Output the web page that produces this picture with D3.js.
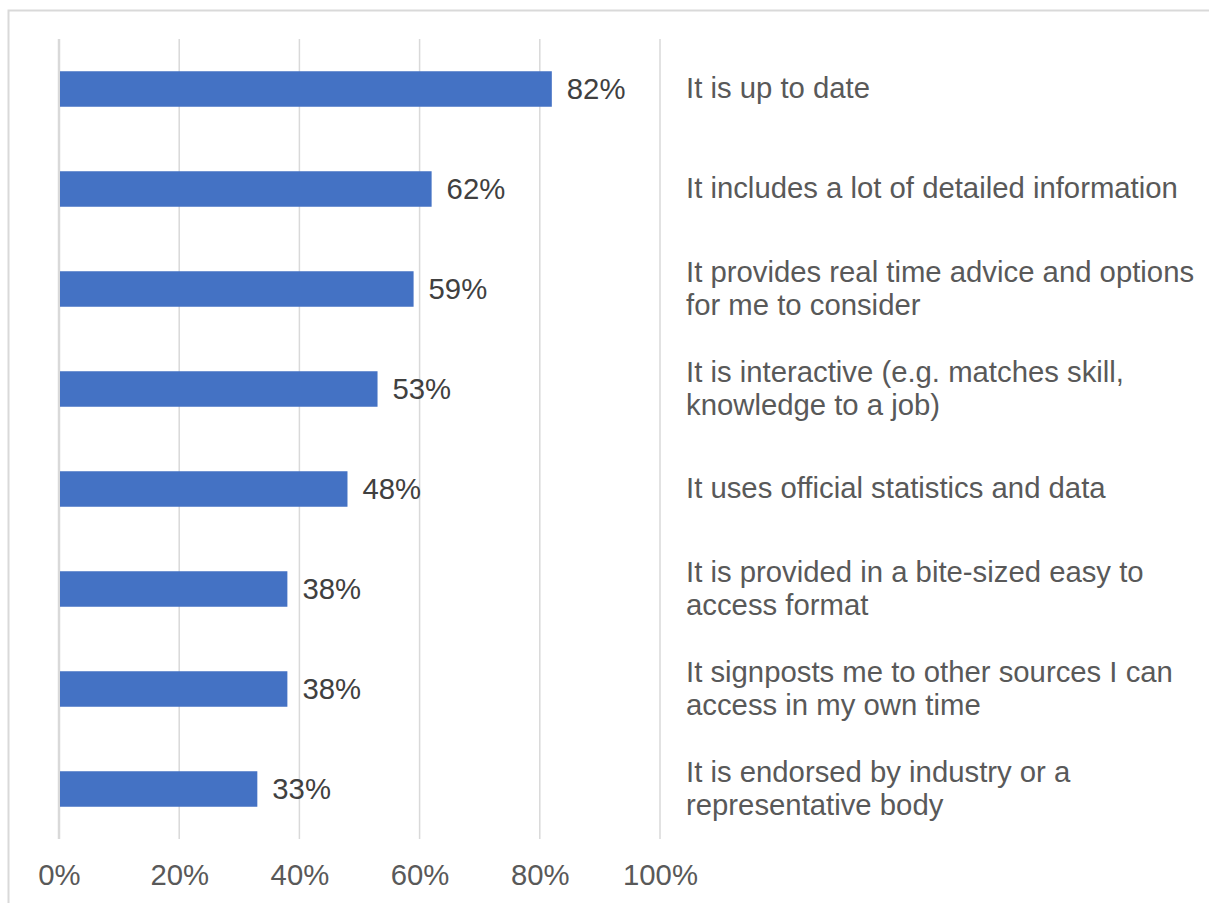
<!DOCTYPE html>
<html>
<head>
<meta charset="utf-8">
<script src="https://cdn.jsdelivr.net/npm/d3@7"></script>
<style>
  html, body { margin: 0; padding: 0; background: #fff; }
  svg { display: block; font-family: "Liberation Sans", Arial, sans-serif; }
</style>
</head>
<body>
<svg id="chart" width="1209" height="903"></svg>
<script>
// Survey answers: what makes careers information useful
const categories = [
  "It is up to date",
  "It includes a lot of detailed information",
  "It provides real time advice and options|for me to consider",
  "It is interactive (e.g. matches skill,|knowledge to a job)",
  "It uses official statistics and data",
  "It is provided in a bite-sized easy to|access format",
  "It signposts me to other sources I can|access in my own time",
  "It is endorsed by industry or a|representative body"
];
const values = [82, 62, 59, 53, 48, 38, 38, 33];
const tickValues = [0, 20, 40, 60, 80, 100];

const FONT = 29.3;
const svg = d3.select("#chart");

// outer frame
svg.append("rect")
  .attr("x", 8.5).attr("y", 10.5)
  .attr("width", 1230).attr("height", 920)
  .attr("fill", "none").attr("stroke", "#d9d9d9").attr("stroke-width", 2);

const plot = { left: 59, right: 660, top: 39, bottom: 839 };

const x = d3.scaleLinear().domain([0, 100]).range([plot.left, plot.right]);
const y = d3.scaleBand().domain(categories).range([plot.top, plot.bottom])
  .paddingInner(0.645).paddingOuter(0.3225);

// vertical gridlines
svg.append("g").selectAll("line").data(tickValues).join("line")
  .attr("x1", d => x(d)).attr("x2", d => x(d))
  .attr("y1", plot.top).attr("y2", plot.bottom)
  .attr("stroke", "#d9d9d9").attr("stroke-width", d => d === 0 ? 2.5 : 1.5);

// bars
svg.append("g").selectAll("rect").data(values).join("rect")
  .attr("x", x(0) + 1)
  .attr("y", (d, i) => y(categories[i]))
  .attr("width", d => x(d) - x(0) - 1)
  .attr("height", y.bandwidth())
  .attr("fill", "#4472c4");

// value labels
svg.append("g").selectAll("text").data(values).join("text")
  .attr("x", d => x(d) + 15)
  .attr("y", (d, i) => y(categories[i]) + y.bandwidth() / 2)
  .attr("dy", "0.34em")
  .attr("font-size", FONT)
  .attr("fill", "#404040")
  .text(d => d + "%");

// category labels on the right
const catG = svg.append("g");
categories.forEach(c => {
  const lines = c.split("|");
  const cy = y(c) + y.bandwidth() / 2;
  const lh = 33.5;
  const t = catG.append("text")
    .attr("x", 686)
    .attr("font-size", FONT)
    .attr("fill", "#595959");
  lines.forEach((ln, j) => {
    t.append("tspan")
      .attr("x", 686)
      .attr("y", cy + (j - (lines.length - 1) / 2) * lh)
      .attr("dy", "0.32em")
      .text(ln);
  });
});

// x axis tick labels
const axis = d3.axisBottom(x).tickValues(tickValues).tickSize(0).tickFormat(d => d + "%");
const ax = svg.append("g")
  .attr("transform", `translate(0, ${plot.bottom + 22})`)
  .call(axis);
ax.select(".domain").remove();
ax.selectAll("text")
  .attr("font-size", FONT)
  .attr("font-family", "'Liberation Sans', Arial, sans-serif")
  .attr("fill", "#595959")
  .attr("dy", "0.71em");
</script>
</body>
</html>
